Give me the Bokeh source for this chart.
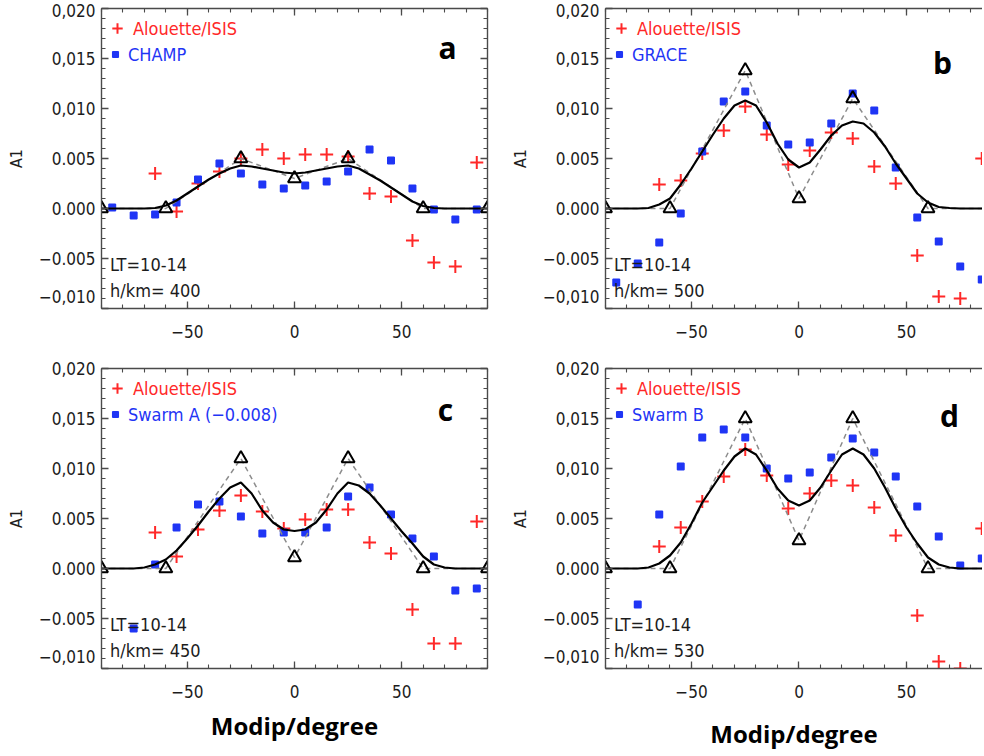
from bokeh.plotting import figure
from bokeh.models import (Range1d, FixedTicker, LinearAxis, CustomJSTickFormatter,
                          Label, Legend, LegendItem)
from bokeh.layouts import column, row
from bokeh.embed import file_html
from bokeh.resources import INLINE
from bokeh.core.properties import value

# ---------------- data ----------------
tri_x = [-90, -60, -25, 0, 25, 60, 90]
curve_x = [-90, -85, -80, -75, -70, -65, -60, -55, -50, -45, -40, -35, -30, -25, -20, -15, -10, -5, 0,
           5, 10, 15, 20, 25, 30, 35, 40, 45, 50, 55, 60, 65, 70, 75, 80, 85, 90]

# panel a (CHAMP, 400 km)
red_x_a = [-65, -55, -45, -35, -25, -15, -5, 5, 15, 25, 35, 45, 55, 65, 75, 85]
red_y_a = [0.0035, -0.0003, 0.0025, 0.0037, 0.0050, 0.0059, 0.0050, 0.0054, 0.0054, 0.0052,
           0.0015, 0.0012, -0.0032, -0.0054, -0.0058, 0.0046]
blue_x_a = [-85, -75, -65, -55, -45, -35, -25, -15, -5, 5, 15, 25, 35, 45, 55, 65, 75, 85]
blue_y_a = [0.0001, -0.0007, -0.0006, 0.0006, 0.0029, 0.0045, 0.0035, 0.0024, 0.0020, 0.0023,
            0.0027, 0.0037, 0.0059, 0.0048, 0.0020, -0.0001, -0.0011, -0.0001]
tri_y_a = [0.0, 0.0, 0.0050, 0.0030, 0.0050, 0.0, 0.0]
curve_y_a = [0, 0, 0, 0, 0, 0.00005, 0.0003, 0.0008, 0.0015, 0.0022, 0.0029, 0.0035, 0.0040, 0.0043,
             0.0042, 0.0040, 0.0038, 0.0036, 0.0035, 0.0036, 0.0038, 0.0040, 0.0042, 0.0043, 0.0040,
             0.0034, 0.0028, 0.0021, 0.0014, 0.0007, 0.00025, 0.00005, 0, 0, 0, 0, 0]

# panel b (GRACE, 500 km)
red_x_b = [-65, -55, -45, -35, -25, -15, -5, 5, 15, 25, 35, 45, 55, 65, 75, 85]
red_y_b = [0.0024, 0.0028, 0.0055, 0.0078, 0.0102, 0.0074, 0.0044, 0.0058, 0.0076, 0.0070,
           0.0042, 0.0025, -0.0047, -0.0088, -0.0090, 0.0050]
blue_x_b = [-85, -75, -65, -55, -45, -35, -25, -15, -5, 5, 15, 25, 35, 45, 55, 65, 75, 85]
blue_y_b = [-0.0074, -0.0055, -0.0034, -0.0005, 0.0057, 0.0107, 0.0117, 0.0083, 0.0064, 0.0066,
            0.0085, 0.0115, 0.0098, 0.0041, -0.0009, -0.0033, -0.0058, -0.0071]
tri_y_b = [0.0, 0.0, 0.0138, 0.0010, 0.0110, 0.0, 0.0]
curve_y_b = [0, 0, 0, 0, 0.00005, 0.0004, 0.0010, 0.0024, 0.0040, 0.0057, 0.0074, 0.0090, 0.0103,
             0.0108, 0.0103, 0.0086, 0.0065, 0.0049, 0.0041, 0.0046, 0.0059, 0.0073, 0.0083, 0.0087,
             0.0085, 0.0076, 0.0062, 0.0045, 0.0030, 0.0015, 0.0006, 0.00015, 0.00005, 0, 0, 0, 0]

# panel c (Swarm A, 450 km)
red_x_c = [-65, -55, -45, -35, -25, -15, -5, 5, 15, 25, 35, 45, 55, 65, 75, 85]
red_y_c = [0.0036, 0.0012, 0.0039, 0.0058, 0.0073, 0.0057, 0.0040, 0.0049, 0.0059, 0.0059,
           0.0026, 0.0015, -0.0041, -0.0075, -0.0075, 0.0047]
blue_x_c = [-75, -65, -55, -45, -35, -25, -15, -5, 5, 15, 25, 35, 45, 55, 65, 75, 85]
blue_y_c = [-0.0060, 0.0004, 0.0041, 0.0064, 0.0067, 0.0052, 0.0035, 0.0036, 0.0036, 0.0041,
            0.0072, 0.0081, 0.0054, 0.0030, 0.0012, -0.0022, -0.0020]
tri_y_c = [0.0, 0.0, 0.0110, 0.0011, 0.0110, 0.0, 0.0]
curve_y_c = [0, 0, 0, 0, 0.0001, 0.0004, 0.0009, 0.0018, 0.0030, 0.0043, 0.0057, 0.0070, 0.0081,
             0.0086, 0.0075, 0.0058, 0.0046, 0.0039, 0.00375, 0.0039, 0.0046, 0.0059, 0.0075, 0.0086,
             0.0083, 0.0075, 0.0063, 0.0050, 0.0037, 0.0025, 0.0012, 0.0004, 0.0001, 0, 0, 0, 0]

# panel d (Swarm B, 530 km)
red_x_d = [-65, -55, -45, -35, -25, -15, -5, 5, 15, 25, 35, 45, 55, 65, 75, 85]
red_y_d = [0.0022, 0.0041, 0.0067, 0.0092, 0.0119, 0.0093, 0.0060, 0.0075, 0.0088, 0.0083,
           0.0061, 0.0033, -0.0047, -0.0093, -0.0100, 0.0040]
blue_x_d = [-75, -65, -55, -45, -35, -25, -15, -5, 5, 15, 25, 35, 45, 55, 65, 75, 85]
blue_y_d = [-0.0036, 0.0054, 0.0102, 0.0131, 0.0139, 0.0131, 0.0100, 0.0090, 0.0096, 0.0111,
            0.0130, 0.0116, 0.0092, 0.0062, 0.0032, 0.0003, 0.0010]
tri_y_d = [0.0, 0.0, 0.0150, 0.0028, 0.0150, 0.0, 0.0]
curve_y_d = [0, 0, 0, 0, 0.0001, 0.0005, 0.0013, 0.0026, 0.0045, 0.0066, 0.0082, 0.0098, 0.0112,
             0.0120, 0.0114, 0.0098, 0.0080, 0.0068, 0.0063, 0.0068, 0.0081, 0.0098, 0.0114, 0.0120,
             0.0114, 0.0100, 0.0081, 0.0060, 0.0041, 0.0025, 0.0011, 0.0004, 0.0001, 0, 0, 0, 0]

# axis ticks and labels (the lowest label sits a little inside the frame, as in the reference)
x_ticks = [-50, 0, 50]
x_tick_labels = ["\u221250", "0", "50"]
x_minor = [-90, -80, -70, -60, -50, -40, -30, -20, -10, 0, 10, 20, 30, 40, 50, 60, 70, 80, 90]
y_ticks = [-0.010, -0.005, 0.0, 0.005, 0.010, 0.015, 0.020]
y_tick_labels = ["\u22120,010\n", "\u22120.005", "0.000", "0.005", "0,010", "0,015", "0,020"]
y_minor = [round(-0.010 + 0.001 * i, 3) for i in range(31)]

series_label = "Alouette/ISIS"
sat_labels = ["CHAMP", "GRACE", "Swarm A (\u22120.008)", "Swarm B"]
panel_letters = ["a", "b", "c", "d"]
heights_km = [400, 500, 450, 530]
lt_text = "LT=10-14"
x_title = "Modip/degree"
y_title = "A1"

# ---------------- styling ----------------
FONT = "DejaVu Sans Condensed"
BOLD = "Open Sans"
RED = "#ff2828"
BLUE = "#1f35f5"
AXC = "#4a4a4a"
TXT = "#1c1c1c"

FMT_JS = ("for (let i = 0; i < tv.length; i++) {"
          "  if (Math.abs(tv[i] - tick) < 1e-9) { return tl[i]; } }"
          "return '';")


def style_axis(ax, ticks, minor, labels, standoff):
    ax.ticker = FixedTicker(ticks=ticks, minor_ticks=minor)
    ax.axis_line_color = AXC
    ax.axis_line_width = 1.4
    ax.major_tick_line_color = AXC
    ax.minor_tick_line_color = AXC
    ax.major_tick_line_width = 1.3
    ax.minor_tick_line_width = 1.1
    ax.major_tick_in = 7
    ax.major_tick_out = 0
    ax.minor_tick_in = 4
    ax.minor_tick_out = 0
    if labels is not None:
        ax.formatter = CustomJSTickFormatter(args=dict(tv=ticks, tl=labels), code=FMT_JS)
        ax.major_label_text_font = FONT
        ax.major_label_text_font_size = "17px"
        ax.major_label_text_color = TXT
        ax.major_label_standoff = standoff
    else:
        ax.formatter = CustomJSTickFormatter(code="return '';")
        ax.major_label_text_font_size = "0px"
        ax.major_label_standoff = 0


def panel(idx, W, H, bl, bt, br, bb, x_end, has_right, letter_x, letter_y,
          red_x, red_y, blue_x, blue_y, tri_y, curve_y, xtitle_standoff):
    p = figure(width=W, height=H, x_range=Range1d(-90, x_end), y_range=Range1d(-0.010, 0.020),
               output_backend="svg", toolbar_location=None,
               min_border_left=bl, min_border_right=br, min_border_top=bt, min_border_bottom=bb)
    p.outline_line_color = None
    p.xgrid.visible = False
    p.ygrid.visible = False
    p.background_fill_color = "white"
    p.border_fill_color = "white"

    style_axis(p.xaxis[0], x_ticks, x_minor, x_tick_labels, 16)
    style_axis(p.yaxis[0], y_ticks, y_minor, y_tick_labels, 6)
    p.yaxis[0].axis_label = y_title
    p.yaxis[0].axis_label_text_font = FONT
    p.yaxis[0].axis_label_text_font_size = "16px"
    p.yaxis[0].axis_label_text_font_style = "normal"
    p.yaxis[0].axis_label_text_color = TXT
    p.yaxis[0].axis_label_standoff = 10
    if xtitle_standoff is not None:
        p.xaxis[0].axis_label = x_title
        p.xaxis[0].axis_label_text_font = BOLD
        p.xaxis[0].axis_label_text_font_size = "24px"
        p.xaxis[0].axis_label_text_font_style = "bold"
        p.xaxis[0].axis_label_text_color = "black"
        p.xaxis[0].axis_label_standoff = xtitle_standoff

    top = LinearAxis()
    style_axis(top, x_ticks, x_minor, None, 0)
    p.add_layout(top, "above")
    if has_right:
        right = LinearAxis()
        style_axis(right, y_ticks, y_minor, None, 0)
        p.add_layout(right, "right")

    r_red = p.scatter(red_x, red_y, marker="cross", size=13, line_color=RED, line_width=2)
    r_blue = p.scatter(blue_x, blue_y, marker="square_x", size=6.5, fill_color=BLUE,
                       line_color=BLUE, line_width=1.5)
    p.line(tri_x, tri_y, line_color="#8c8c8c", line_width=1.5, line_dash="5 4")
    p.line(curve_x, curve_y, line_color="black", line_width=2.2)
    p.scatter(tri_x, tri_y, marker="triangle", size=13, fill_color=None,
              line_color="black", line_width=2)

    hf = H - bt - bb
    leg_r = Legend(items=[LegendItem(label=value(series_label), renderers=[r_red])],
                   location=(3, hf - 33), glyph_width=26, glyph_height=26, label_height=26,
                   label_standoff=3, padding=0, margin=0, border_line_color=None,
                   background_fill_alpha=0, label_text_font=FONT, label_text_font_size="18px",
                   label_text_color=RED)
    leg_b = Legend(items=[LegendItem(label=value(sat_labels[idx]), renderers=[r_blue])],
                   location=(7, hf - 58), glyph_width=14, glyph_height=24, label_height=24,
                   label_standoff=6, padding=0, margin=0, border_line_color=None,
                   background_fill_alpha=0, label_text_font=FONT, label_text_font_size="18px",
                   label_text_color=BLUE)
    p.add_layout(leg_r)
    p.add_layout(leg_b)

    p.add_layout(Label(x=-86, y=-0.0056, text=lt_text, text_baseline="middle", text_font=FONT,
                       text_font_size="18px", text_color=TXT))
    p.add_layout(Label(x=-86, y=-0.0082, text="h/km= %d" % heights_km[idx], text_baseline="middle",
                       text_font=FONT, text_font_size="18px", text_color=TXT))
    p.add_layout(Label(x=letter_x, y=letter_y, text=panel_letters[idx], text_align="center",
                       text_baseline="middle", text_font=BOLD, text_font_style="bold",
                       text_font_size="30px", text_color="black"))
    return p


# layout: left column 0..490, right column 490..982; row 1 frame 8..308, row 2 frame 368..668
pa = panel(0, 490, 348, 101, 8, 3, 40, 90, True, 71.4, 0.0161,
           red_x_a, red_y_a, blue_x_a, blue_y_a, tri_y_a, curve_y_a, None)
pb = panel(1, 492, 348, 115, 8, 0, 40, 85.35, False, 66.7, 0.0146,
           red_x_b, red_y_b, blue_x_b, blue_y_b, tri_y_b, curve_y_b, None)
pc = panel(2, 490, 405, 101, 20, 3, 85, 90, True, 70.4, 0.0159,
           red_x_c, red_y_c, blue_x_c, blue_y_c, tri_y_c, curve_y_c, 8)
pd = panel(3, 492, 405, 115, 20, 0, 85, 85.35, False, 70, 0.0153,
           red_x_d, red_y_d, blue_x_d, blue_y_d, tri_y_d, curve_y_d, 16)

layout = column(row(pa, pb), row(pc, pd))
open("out.html", "w").write(file_html(layout, INLINE))
